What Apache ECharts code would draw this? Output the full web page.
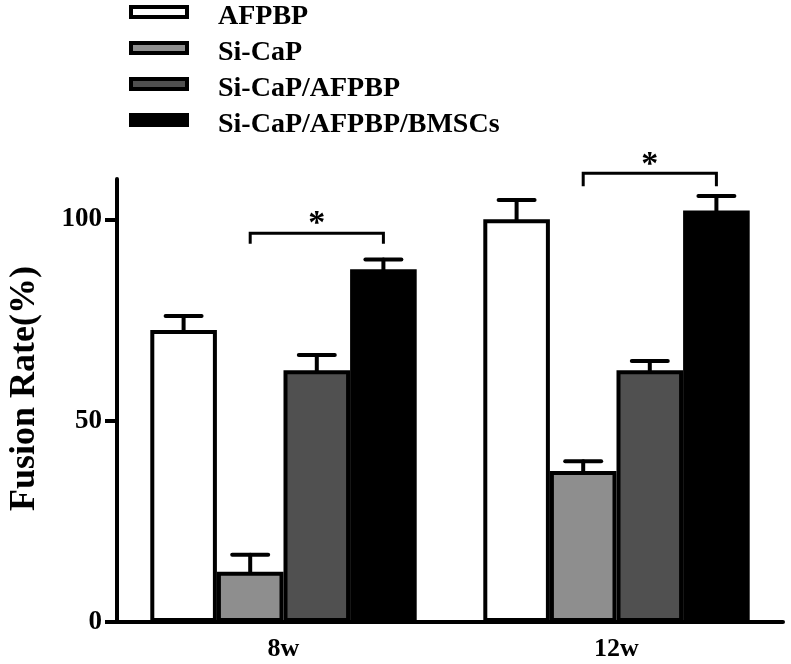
<!DOCTYPE html>
<html>
<head>
<meta charset="utf-8">
<script src="https://cdn.jsdelivr.net/npm/echarts@6/dist/echarts.min.js"></script>
<style>
html,body{margin:0;padding:0;background:#fff;}
#chart{width:791px;height:664px;}
</style>
</head>
<body>
<div id="chart"></div>
<script>
var categories = ['8w', '12w'];
var seriesNames = ['AFPBP', 'Si-CaP', 'Si-CaP/AFPBP', 'Si-CaP/AFPBP/BMSCs'];
var afpbp = [72.5, 100];
var afpbpErr = [3.5, 4.8];
var sicap = [12.5, 37.5];
var sicapErr = [4.2, 2.4];
var sicapAfpbp = [62.5, 62.5];
var sicapAfpbpErr = [3.8, 2.3];
var bmscs = [87.6, 102.2];
var bmscsErr = [2.4, 3.6];
var yTicks = [0, 50, 100];
// significance brackets: [category index, bracket level, drop, star level]
var sigBrackets = [[0, 96.5, 2.6, 100.3], [1, 111.4, 3.2, 114.8]];
var sigLabel = '*';

var values = [afpbp, sicap, sicapAfpbp, bmscs];
var errors = [afpbpErr, sicapErr, sicapAfpbpErr, bmscsErr];
var colors = ['#ffffff', '#8e8e8e', '#505050', '#000000'];
var FONT = '"Liberation Serif", "Times New Roman", serif';
var NBARS = 4, GAP = 0.2;

function barOffset(api, idx) {
  var band = api.size([1, 0])[0];
  var bw = band * (1 - GAP) / NBARS;
  return { off: (idx - (NBARS - 1) / 2) * bw, bw: bw };
}

var series = [];
values.forEach(function (vals, i) {
  series.push({
    name: seriesNames[i],
    type: 'bar',
    data: vals,
    barGap: '0%',
    barCategoryGap: '20%',
    itemStyle: { color: colors[i], borderColor: '#000', borderWidth: 4 },
    z: 2
  });
});
values.forEach(function (vals, i) {
  series.push({
    type: 'custom',
    name: 'err' + i,
    clip: false,
    z: 3,
    data: vals.map(function (v, k) { return [k, v, errors[i][k]]; }),
    renderItem: function (params, api) {
      var c = api.value(0), v = api.value(1), e = api.value(2);
      var p0 = api.coord([c, v]);
      var p1 = api.coord([c, v + e]);
      var o = barOffset(api, i);
      var x = p0[0] + o.off;
      var hw = o.bw * 0.27;
      var st = { stroke: '#000', lineWidth: 4, lineCap: 'round' };
      return {
        type: 'group',
        children: [
          { type: 'line', shape: { x1: x, y1: p0[1], x2: x, y2: p1[1] }, style: st },
          { type: 'line', shape: { x1: x - hw, y1: p1[1], x2: x + hw, y2: p1[1] }, style: st }
        ]
      };
    }
  });
});
series.push({
  type: 'custom',
  name: 'sig',
  clip: false,
  z: 4,
  data: sigBrackets,
  renderItem: function (params, api) {
    var c = api.value(0), lv = api.value(1), drop = api.value(2), sv = api.value(3);
    var p = api.coord([c, lv]);
    var pb = api.coord([c, lv - drop]);
    var ps = api.coord([c, sv]);
    var a = barOffset(api, 1), b = barOffset(api, 3);
    var x1 = p[0] + a.off, x2 = p[0] + b.off;
    var st = { stroke: '#000', lineWidth: 3, fill: null };
    return {
      type: 'group',
      children: [
        { type: 'polyline', shape: { points: [[x1, pb[1]], [x1, p[1]], [x2, p[1]], [x2, pb[1]]] }, style: st },
        { type: 'text', style: { text: sigLabel, x: (x1 + x2) / 2, y: ps[1] + 6, align: 'center', verticalAlign: 'middle', font: 'bold 34px ' + FONT, fill: '#000' } }
      ]
    };
  }
});

var chart = echarts.init(document.getElementById('chart'), null, { renderer: 'canvas' });
chart.setOption({
  backgroundColor: '#fff',
  animation: false,
  textStyle: { fontFamily: FONT },
  legend: {
    data: seriesNames,
    orient: 'vertical',
    left: 129,
    top: 3,
    padding: 0,
    itemWidth: 56,
    itemHeight: 20,
    itemGap: 8,
    icon: 'path://M0,0L56,0L56,10L0,10Z M0,20',
    itemStyle: { borderColor: '#000', borderWidth: 4 },
    textStyle: { fontFamily: FONT, fontWeight: 'bold', fontSize: 28, color: '#000', lineHeight: 27, padding: [0, 0, 0, 26] }
  },
  grid: { left: 117, right: 8, top: 179, bottom: 42, containLabel: false, outerBoundsMode: 'none' },
  xAxis: {
    type: 'category',
    data: categories,
    axisLine: { lineStyle: { color: '#000', width: 4 } },
    axisTick: { alignWithLabel: true, length: 12, lineStyle: { color: '#000', width: 4 } },
    axisLabel: { fontFamily: FONT, fontWeight: 'bold', fontSize: 26, color: '#000', margin: 14 }
  },
  yAxis: {
    type: 'value',
    min: 0,
    max: 110,
    interval: 50,
    name: 'Fusion Rate(%)',
    nameLocation: 'middle',
    nameGap: 74,
    nameTextStyle: { fontFamily: FONT, fontWeight: 'bold', fontSize: 36, color: '#000', padding: [0, 0, 0, 24] },
    splitLine: { show: false },
    axisLine: { show: true, lineStyle: { color: '#000', width: 4 } },
    axisTick: { show: true, length: 12, customValues: yTicks, lineStyle: { color: '#000', width: 4 } },
    axisLabel: { fontFamily: FONT, fontWeight: 'bold', fontSize: 27, color: '#000', margin: 15, customValues: yTicks }
  },
  series: series
});
</script>
</body>
</html>
